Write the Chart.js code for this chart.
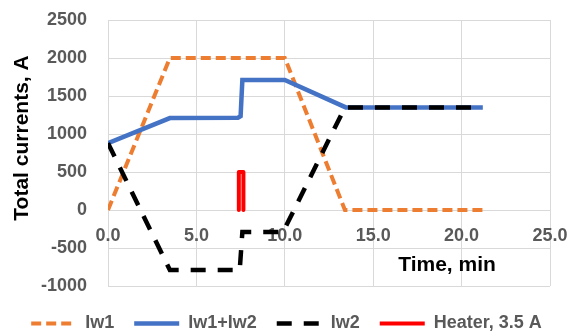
<!DOCTYPE html>
<html>
<head>
<meta charset="utf-8">
<script src="https://cdn.jsdelivr.net/npm/chart.js@4"></script>
<style>
  html, body { margin: 0; padding: 0; background: #fff; }
</style>
</head>
<body>
<canvas id="currentsChart" width="573" height="335"></canvas>
<script>
// Values (time in min, current in A)
const iw1Time = [0, 3.5, 10.0, 13.4, 21.2];
const iw1Values = [0, 2000, 2000, 0, 0];

const sumTime = [0, 3.5, 7.35, 7.5, 7.6, 10.0, 13.45, 21.2];
const sumValues = [880, 1210, 1215, 1235, 1710, 1710, 1350, 1350];

const iw2Time = [0, 3.5, 7.45, 7.6, 9.9, 13.4, 21.2];
const iw2Values = [880, -790, -790, -290, -290, 1350, 1350];

const heaterTime = [7.4, 7.4, 7.66, 7.66];
const heaterValues = [0, 500, 500, 0];

const seriesNames = ['Iw1', 'Iw1+Iw2', 'Iw2', 'Heater, 3.5 A'];
const xTickValues = [0, 5, 10, 15, 20, 25];
const yTickValues = [-1000, -500, 0, 500, 1000, 1500, 2000, 2500];

const FONT = "'Liberation Sans', Arial, sans-serif";
Chart.defaults.font.family = FONT;

const toPoints = (xs, ys) => xs.map((x, i) => ({ x: x, y: ys[i] }));

// axis titles drawn by hand so they sit where the original puts them
const axisTitles = {
    id: 'axisTitles',
    afterDraw(chart) {
        const ctx = chart.ctx;
        ctx.save();
        ctx.fillStyle = '#000000';
        ctx.font = 'bold 21px ' + FONT;
        ctx.textAlign = 'center';
        ctx.textBaseline = 'middle';
        ctx.fillText('Time, min', 447, 265);
        ctx.translate(22, 138);
        ctx.rotate(-Math.PI / 2);
        ctx.fillText('Total currents, A', 0, 0);
        ctx.restore();
    }
};

// legend samples as dashed / solid lines like the datasets
function legendLabels(chart) {
    const items = Chart.defaults.plugins.legend.labels.generateLabels(chart);
    items.forEach(item => {
        const ds = chart.data.datasets[item.datasetIndex];
        item.lineDash = ds.borderDash || [];
        item.lineWidth = ds.borderWidth;
        item.strokeStyle = ds.borderColor;
        item.fontColor = '#595959';
    });
    return items;
}

const ctx = document.getElementById('currentsChart').getContext('2d');
new Chart(ctx, {
    type: 'line',
    data: {
        datasets: [{
            label: seriesNames[0],
            data: toPoints(iw1Time, iw1Values),
            borderColor: '#ED7D31',
            backgroundColor: '#ED7D31',
            borderWidth: 4,
            borderDash: [10, 5],
            order: 4
        }, {
            label: seriesNames[1],
            data: toPoints(sumTime, sumValues),
            borderColor: '#4472C4',
            backgroundColor: '#4472C4',
            borderWidth: 4.5,
            order: 3
        }, {
            label: seriesNames[2],
            data: toPoints(iw2Time, iw2Values),
            borderColor: '#000000',
            backgroundColor: '#000000',
            borderWidth: 4.5,
            borderDash: [15, 12],
            order: 2
        }, {
            label: seriesNames[3],
            data: toPoints(heaterTime, heaterValues),
            borderColor: '#FF0000',
            backgroundColor: '#FF0000',
            borderWidth: 4,
            borderJoinStyle: 'round',
            borderCapStyle: 'round',
            order: 1
        }]
    },
    options: {
        responsive: false,
        animation: false,
        layout: {
            padding: { left: 0, right: 0, top: 20, bottom: -7.5 }
        },
        elements: {
            point: { radius: 0, hoverRadius: 0 },
            line: { tension: 0, fill: false }
        },
        scales: {
            x: {
                type: 'linear',
                position: { y: 0 },
                min: 0,
                max: 25,
                afterBuildTicks: (s) => { s.ticks = xTickValues.map(v => ({ value: v })); },
                afterFit: (s) => { s.height = 0; s.paddingLeft = 0; s.paddingRight = 0; },
                ticks: {
                    padding: 15,
                    color: '#595959',
                    font: { size: 18, weight: 'bold' },
                    callback: (v) => Number(v).toFixed(1)
                },
                grid: { color: '#D9D9D9', drawTicks: false },
                border: { display: false }
            },
            y: {
                min: -1000,
                max: 2500,
                afterBuildTicks: (s) => { s.ticks = yTickValues.map(v => ({ value: v })); },
                afterFit: (s) => { s.width = 108; s.paddingTop = 10; s.paddingBottom = 10; },
                ticks: {
                    padding: 21,
                    color: '#595959',
                    font: { size: 18, weight: 'bold' },
                    callback: (v) => String(v)
                },
                grid: { color: '#D9D9D9', drawTicks: false },
                border: { display: false }
            },
            // empty right-hand strip, keeps the plot off the right edge
            spacer: {
                type: 'linear',
                position: 'right',
                afterFit: (s) => { s.width = 23; s.paddingTop = 0; s.paddingBottom = 0; },
                ticks: { display: false },
                grid: { display: false, drawOnChartArea: false },
                border: { display: false }
            }
        },
        plugins: {
            legend: {
                position: 'bottom',
                title: {
                    display: true,
                    text: '',
                    padding: 0,
                    font: { size: 8, lineHeight: 1.0625 }
                },
                labels: {
                    usePointStyle: true,
                    pointStyle: 'line',
                    pointStyleWidth: 45,
                    padding: 20,
                    color: '#595959',
                    font: { size: 18, weight: 'bold' },
                    generateLabels: legendLabels,
                    sort: (a, b) => a.datasetIndex - b.datasetIndex
                }
            },
            tooltip: { enabled: false }
        }
    },
    plugins: [axisTitles]
});
</script>
</body>
</html>
